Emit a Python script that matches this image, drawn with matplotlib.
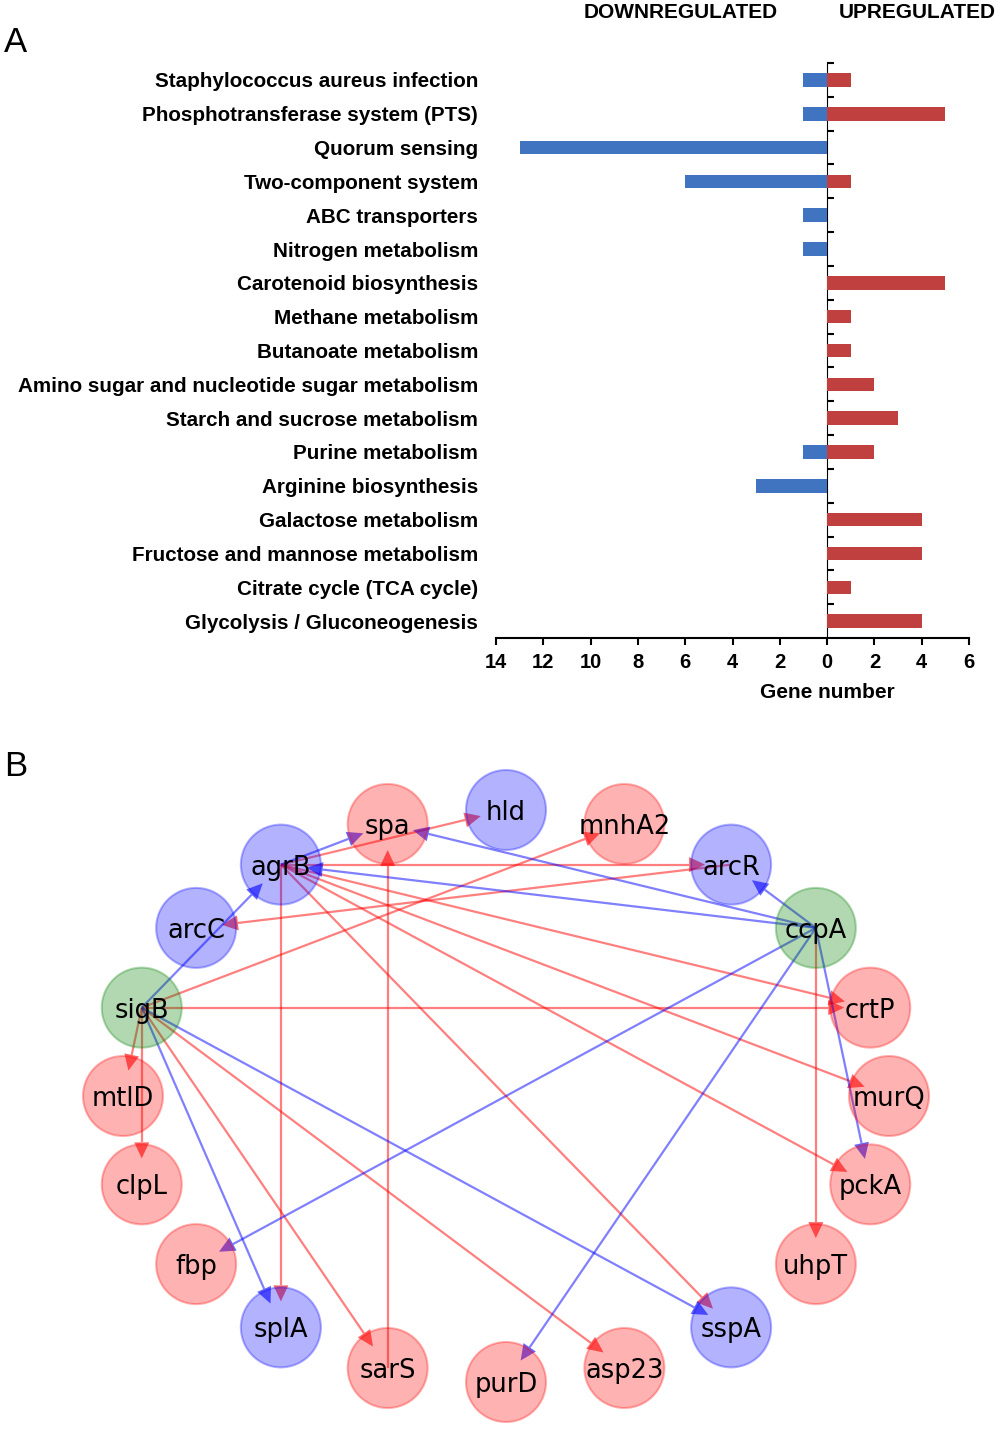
import numpy as np
import matplotlib
matplotlib.use("Agg")
import matplotlib.pyplot as plt
from matplotlib.patches import Circle, Polygon

# ---------------- Data: panel A ----------------
pathways = [
    "Staphylococcus aureus infection",
    "Phosphotransferase system (PTS)",
    "Quorum sensing",
    "Two-component system",
    "ABC transporters",
    "Nitrogen metabolism",
    "Carotenoid biosynthesis",
    "Methane metabolism",
    "Butanoate metabolism",
    "Amino sugar and nucleotide sugar metabolism",
    "Starch and sucrose metabolism",
    "Purine metabolism",
    "Arginine biosynthesis",
    "Galactose metabolism",
    "Fructose and mannose metabolism",
    "Citrate cycle (TCA cycle)",
    "Glycolysis / Gluconeogenesis",
]
down_genes = [1, 1, 13, 6, 1, 1, 0, 0, 0, 0, 0, 1, 3, 0, 0, 0, 0]
up_genes = [1, 5, 0, 1, 0, 0, 5, 1, 1, 2, 3, 2, 0, 4, 4, 1, 4]
xticks = [-14, -12, -10, -8, -6, -4, -2, 0, 2, 4, 6]
xtick_labels = ["14", "12", "10", "8", "6", "4", "2", "0", "2", "4", "6"]

# ---------------- Data: panel B ----------------
# node order around the circle (counter-clockwise, starting at the right)
nodes = ["murQ", "crtP", "ccpA", "arcR", "mnhA2", "hld", "spa", "agrB", "arcC",
         "sigB", "mtlD", "clpL", "fbp", "splA", "sarS", "purD", "asp23", "sspA",
         "uhpT", "pckA"]
node_type = {  # up = red, down = blue, regulator = green
    "murQ": "up", "crtP": "up", "ccpA": "reg", "arcR": "down", "mnhA2": "up",
    "hld": "down", "spa": "up", "agrB": "down", "arcC": "down", "sigB": "reg",
    "mtlD": "up", "clpL": "up", "fbp": "up", "splA": "down", "sarS": "up",
    "purD": "up", "asp23": "up", "sspA": "down", "uhpT": "up", "pckA": "up",
}
red_edges = [("agrB", "hld"), ("agrB", "arcR"), ("agrB", "crtP"), ("agrB", "murQ"),
             ("agrB", "pckA"), ("agrB", "sspA"), ("agrB", "splA"), ("arcR", "arcC"),
             ("sarS", "spa"), ("sigB", "mnhA2"), ("sigB", "crtP"), ("sigB", "mtlD"),
             ("sigB", "clpL"), ("sigB", "sarS"), ("sigB", "asp23"), ("ccpA", "uhpT")]
blue_edges = [("agrB", "spa"), ("ccpA", "spa"), ("ccpA", "agrB"), ("ccpA", "arcR"),
              ("ccpA", "pckA"), ("ccpA", "fbp"), ("ccpA", "purD"), ("sigB", "agrB"),
              ("sigB", "splA"), ("sigB", "sspA")]

W, H = 1000, 1431
fig = plt.figure(figsize=(W / 100, H / 100), dpi=100)
FONT = ["Liberation Sans", "DejaVu Sans"]
plt.rcParams["font.family"] = FONT

def fx(px):
    return px / W

def fy(py):
    return 1 - py / H

# ---------------- Panel A ----------------
ax_l, ax_r, ax_t, ax_b = 496, 969, 63, 638
ax = fig.add_axes([fx(ax_l), fy(ax_b), (ax_r - ax_l) / W, (ax_b - ax_t) / H])
y = np.arange(len(pathways))
blue = "#4074C1"
red = "#C0403F"
ax.barh(y, [-v for v in down_genes], height=0.4, color=blue, edgecolor="none")
ax.barh(y, up_genes, height=0.4, color=red, edgecolor="none")
ax.set_xlim(-14, 6)
ax.set_ylim(len(pathways) - 0.5, -0.5)
for s in ["top", "right", "left"]:
    ax.spines[s].set_visible(False)
ax.spines["bottom"].set_linewidth(1.5)
ax.set_xticks(xticks)
ax.set_xticklabels(xtick_labels, fontsize=14.5, fontweight="bold")
ax.tick_params(axis="x", direction="out", length=5, width=1.5, pad=5.5)
ax.set_yticks(y)
ax.set_yticklabels(pathways, fontsize=14.85, fontweight="bold")
ax.tick_params(axis="y", length=0, pad=13)
sec = ax.secondary_yaxis(0.7)
sec.spines["left"].set_linewidth(1.5)
sec.set_yticks(np.arange(len(pathways)) - 0.5)
sec.set_yticklabels([])
sec.tick_params(axis="y", direction="out", length=5, width=1.5)

fig.text(fx(827), fy(692), "Gene number", ha="center", va="center",
         fontsize=15, fontweight="bold")
fig.text(fx(681), fy(12), "DOWNREGULATED", ha="center", va="center",
         fontsize=15, fontweight="bold")
fig.text(fx(917), fy(12), "UPREGULATED", ha="center", va="center",
         fontsize=15, fontweight="bold")
fig.text(fx(4), fy(42), "A", ha="left", va="center", fontsize=25)
fig.text(fx(4), fy(766), "B", ha="left", va="center", fontsize=25)

# ---------------- Panel B ----------------
top_px = 740
axn = fig.add_axes([0, 0, 1, (H - top_px) / H])
axn.set_xlim(0, W)
axn.set_ylim(H, top_px)
axn.axis("off")

cx, cy, rx, ry = 506, 1096, 383, 286
node_r = 40
tip_off = 26
head_len = 16
head_hw = 7.5
pos = {}
for k, n in enumerate(nodes):
    a = np.deg2rad(360.0 * k / len(nodes))
    pos[n] = (cx + rx * np.cos(a), cy - ry * np.sin(a))

def draw_edge(u, v, col):
    x0, y0 = pos[u]
    x1, y1 = pos[v]
    d = np.hypot(x1 - x0, y1 - y0)
    ux, uy = (x1 - x0) / d, (y1 - y0) / d
    tx, ty = x1 - ux * tip_off, y1 - uy * tip_off
    bx, by = tx - ux * head_len, ty - uy * head_len
    axn.plot([x0, bx], [y0, by], color=col, alpha=0.5, lw=1.6,
             solid_capstyle="butt", zorder=1)
    px, py = -uy, ux
    head = Polygon([(tx, ty), (bx + px * head_hw, by + py * head_hw),
                    (bx - px * head_hw, by - py * head_hw)], closed=True,
                   facecolor=col, edgecolor="none", alpha=0.6, zorder=1)
    axn.add_patch(head)

for u, v in red_edges:
    draw_edge(u, v, "#FF0000")
for u, v in blue_edges:
    draw_edge(u, v, "#0000FF")

colmap = {"up": "#FF0000", "down": "#0000FF", "reg": "#008000"}
for n in nodes:
    c = colmap[node_type[n]]
    circ = Circle(pos[n], node_r, facecolor=c, edgecolor=c, alpha=0.3, lw=1.5, zorder=2)
    axn.add_patch(circ)
    axn.text(pos[n][0], pos[n][1], n, ha="center", va="center_baseline", fontsize=18.5,
             family="DejaVu Sans", color="black", zorder=3)

fig.savefig("out.png", dpi=100)
